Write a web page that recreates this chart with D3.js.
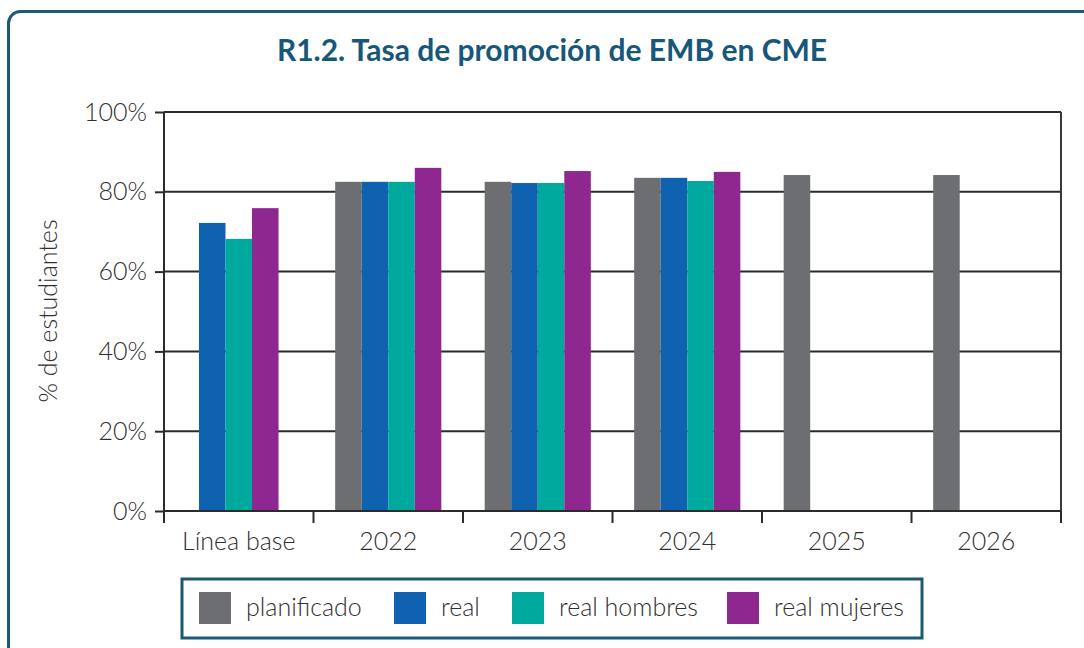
<!DOCTYPE html>
<html><head><meta charset="utf-8">
<script src="https://cdn.jsdelivr.net/npm/d3@7"></script>
<style>
html,body{margin:0;padding:0;background:#fff;}
svg{display:block;}
</style></head>
<body>
<svg id="chart" width="1084" height="648"></svg>
<script>
const categories = ["Línea base","2022","2023","2024","2025","2026"];
const seriesNames = ["planificado","real","real hombres","real mujeres"];
const planificado = [null, 82.5, 82.5, 83.5, 84.2, 84.2];
const real = [72.2, 82.5, 82.2, 83.5, null, null];
const realHombres = [68.2, 82.5, 82.2, 82.7, null, null];
const realMujeres = [75.9, 86.0, 85.2, 85.0, null, null];
const yTicks = [0, 20, 40, 60, 80, 100];
const colors = ["#6d6e71","#0f62b0","#00a99d","#8e278f"];

const values = [planificado, real, realHombres, realMujeres];
const svg = d3.select("#chart");
const font = "Lato, 'Liberation Sans', sans-serif";
const txt = "#2f2f2f";
const m = {left:164, right:1061, top:112, bottom:511};

// frame
svg.append("rect").attr("x",8.5).attr("y",11.5).attr("width",1100).attr("height",700)
  .attr("rx",12).attr("fill","none").attr("stroke","#1b5a75").attr("stroke-width",3);

svg.append("text").attr("x",552).attr("y",61).attr("text-anchor","middle")
  .attr("font-family","Lato, sans-serif").attr("font-weight",700).attr("font-size",30)
  .attr("fill","#17577a").text("R1.2. Tasa de promoción de EMB en CME");

const x = d3.scaleBand().domain(categories).range([m.left, m.right]).paddingInner(0).paddingOuter(0);
const y = d3.scaleLinear().domain([0,100]).range([m.bottom, m.top]);

// grid
svg.append("g").selectAll("line").data(yTicks.filter(d=>d>0)).join("line")
  .attr("x1",m.left).attr("x2",m.right).attr("y1",d=>y(d)).attr("y2",d=>y(d))
  .attr("stroke","#2b2b2b").attr("stroke-width",2);
// right border
svg.append("line").attr("x1",m.right).attr("x2",m.right).attr("y1",m.top).attr("y2",m.bottom)
  .attr("stroke","#3a3a3a").attr("stroke-width",2);

// bars
const groupW = x.bandwidth()*0.71;
const barW = groupW/4;
categories.forEach((c,i)=>{
  let slots = [0,1,2,3];
  if (planificado[i] === null) slots = [1,2,3];
  const start = x(c) + x.bandwidth()/2 - slots.length*barW/2;
  const data = slots.map((s,k)=>({s, k, v: values[s][i]})).filter(d=>d.v!==null);
  svg.append("g").selectAll("rect").data(data).join("rect")
    .attr("x",d=>start + d.k*barW).attr("width",barW)
    .attr("y",d=>y(d.v)).attr("height",d=>y(0)-y(d.v))
    .attr("fill",d=>colors[d.s]);
});

// y axis
const ya = d3.axisLeft(y).tickValues(yTicks).tickFormat(d=>d+"%").tickSize(9).tickPadding(8);
const gy = svg.append("g").attr("transform",`translate(${m.left},0)`).call(ya);
gy.select(".domain").attr("stroke","#2b2b2b").attr("stroke-width",2).attr("d",`M0,${m.top}V${m.bottom}`);
gy.selectAll(".tick line").attr("stroke","#2b2b2b").attr("stroke-width",2);
gy.selectAll("text").attr("font-family",font).attr("font-weight",300).attr("font-size",25).attr("fill",txt);

// x axis
const gx = svg.append("g").attr("transform",`translate(0,${m.bottom})`);
gx.append("line").attr("x1",m.left).attr("x2",m.right).attr("stroke","#2b2b2b").attr("stroke-width",2);
const bounds = categories.map(c=>x(c)).concat([m.right]);
gx.selectAll("line.t").data(bounds).join("line").attr("class","t")
  .attr("x1",d=>d).attr("x2",d=>d).attr("y1",0).attr("y2",12).attr("stroke","#2b2b2b").attr("stroke-width",2);
gx.selectAll("text").data(categories).join("text")
  .attr("x",d=>x(d)+x.bandwidth()/2).attr("y",39).attr("text-anchor","middle")
  .attr("font-family",font).attr("font-weight",300).attr("font-size",25).attr("fill",txt).text(d=>d);

// y title
svg.append("text").attr("transform","translate(57,311) rotate(-90)").attr("text-anchor","middle")
  .attr("font-family",font).attr("font-weight",300).attr("font-size",25).attr("fill",txt).text("% de estudiantes");

// legend
svg.append("rect").attr("x",182).attr("y",579).attr("width",740).attr("height",59)
  .attr("fill","none").attr("stroke","#1b5a75").attr("stroke-width",3);
const legX = [199, 394, 512, 727];
const lg = svg.append("g").selectAll("g").data(seriesNames).join("g")
  .attr("transform",(d,i)=>`translate(${legX[i]},592)`);
lg.append("rect").attr("width",32).attr("height",32).attr("fill",(d,i)=>colors[i]);
lg.append("text").attr("x",47).attr("y",24).attr("font-family",font).attr("font-weight",300)
  .attr("font-size",25).attr("fill",txt).text(d=>d);
</script>
</body></html>
